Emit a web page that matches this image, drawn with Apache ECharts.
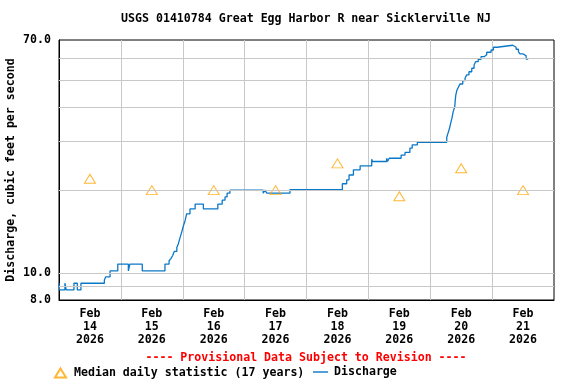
<!DOCTYPE html>
<html><head><meta charset="utf-8">
<script src="https://cdn.jsdelivr.net/npm/echarts@6/dist/echarts.min.js"></script>
<style>html,body{margin:0;padding:0;background:#fff}#c{width:576px;height:384px}</style>
</head><body><div id="c"></div>
<script>
const chartTitle = 'USGS 01410784 Great Egg Harbor R near Sicklerville NJ';
const yAxisTitle = 'Discharge, cubic feet per second';
const footerText = '---- Provisional Data Subject to Revision ----';
const dayLabels = ['Feb\n14\n2026','Feb\n15\n2026','Feb\n16\n2026','Feb\n17\n2026','Feb\n18\n2026','Feb\n19\n2026','Feb\n20\n2026','Feb\n21\n2026'];
const medianName = 'Median daily statistic (17 years)';
const medianValues = [22, 20, 20, 20, 25, 19, 24, 20];
const dischargeName = 'Discharge';
// hours since 2026-02-14 00:00
const dischargeHours = [0,0.2,2.3,2.8,5.8,7.1,8.5,17.6,18.1,19.8,22.8,26.9,27.5,32.3,41.1,42.7,43.4,44.1,44.7,45.7,46.3,46.9,47.6,48.2,48.9,49.5,50.8,52.8,56.0,61.6,63.3,64.4,65.2,66.3,79.2,79.9,80.6,89.6,109.9,111.6,112.5,114.2,116.8,121.3,121.6,127.1,127.4,128.1,132.7,134.2,136.1,137.0,139.0,150.4,150.8,151.4,151.9,152.4,152.9,153.5,153.7,153.9,154.3,154.9,155.5,156.6,157.5,158.1,159.0,160.1,161.0,161.6,162.6,163.7,164.9,165.9,167.6,168.5,170.0,176.0,177.3,178.2,178.8,180.1,181.2,182.0];
const dischargeValues = [9.2,8.7,9.2,8.7,9.2,8.7,9.2,9.45,9.7,10.2,10.8,10.2,10.8,10.2,10.8,11.1,11.3,11.6,12.0,12.4,12.8,13.4,14.1,14.8,15.5,16.4,17.1,17.8,17.1,17.8,18.4,18.9,19.5,20.0,19.5,20.0,19.5,20.1,21.1,21.8,22.7,23.7,24.5,25.9,25.4,26.1,25.4,26.1,26.8,27.4,28.4,29.2,29.8,31.1,32.0,33.3,34.9,36.4,38.5,40.1,42.4,44.2,45.9,47.2,48.5,49.9,50.9,52.3,53.7,55.3,56.8,58.4,59.6,60.9,61.9,63.2,64.4,65.9,67.0,65.9,64.8,63.5,62.3,61.3,59.7,59.7];
const yTickValues = [8, 10, 70];
const yGridValues = [9, 10, 20, 30, 40, 50, 60];
const yMin = 8, yMax = 70;
const xMaxHours = 192, xStepHours = 24;

const FONT = "'DejaVu Sans Mono', monospace";
const FS = 11.6;
const txt = {fontFamily: FONT, fontWeight: 'bold', fontSize: FS, color: '#000'};

const chart = echarts.init(document.getElementById('c'), null, {renderer: 'canvas'});
chart.setOption({
  animation: false,
  backgroundColor: '#fff',
  grid: {left: 59, right: 22, top: 40, bottom: 84, containLabel: false, outerBoundsMode: 'none',
         show: true, borderColor: '#000', borderWidth: 1, backgroundColor: 'transparent'},
  graphic: [
    {type: 'text', x: 306, y: 19, style: {text: chartTitle, font: `bold ${FS}px ${FONT}`, fill: '#000', textAlign: 'center', textVerticalAlign: 'middle'}},
    {type: 'text', x: 306, y: 358, style: {text: footerText, font: `bold ${FS}px ${FONT}`, fill: '#ff0000', textAlign: 'center', textVerticalAlign: 'middle'}}
  ],
  legend: [
    {data: [medianName], left: 54, top: 367, itemWidth: 11, itemHeight: 9, padding: 0, textStyle: Object.assign({}, txt, {padding: [0, 0, 0, 3]})},
    {data: [{name: dischargeName, icon: 'rect'}], left: 313, top: 366, itemWidth: 15, itemHeight: 1.4, padding: 0,
     itemStyle: {color: '#0a78c8', borderWidth: 0}, textStyle: Object.assign({}, txt, {padding: [0, 0, 0, 1]})}
  ],
  xAxis: [
    {type: 'value', min: 0, max: xMaxHours, interval: xStepHours, position: 'bottom',
     axisLine: {show: true, lineStyle: {color: '#000'}}, axisTick: {show: false}, axisLabel: {show: false},
     splitLine: {show: true, showMinLine: false, showMaxLine: false, lineStyle: {color: '#c8c8c8', width: 1}}},
    {type: 'category', data: dayLabels, position: 'bottom', boundaryGap: true,
     axisLine: {show: false}, axisTick: {show: false}, splitLine: {show: false},
     axisLabel: Object.assign({}, txt, {margin: 8, lineHeight: 12.7, interval: 0})}
  ],
  yAxis: {
    type: 'log', logBase: 10, min: yMin, max: yMax,
    axisLine: {show: true, lineStyle: {color: '#000'}}, axisTick: {show: false}, splitLine: {show: false},
    axisLabel: Object.assign({}, txt, {margin: 8, customValues: yTickValues, showMinLabel: true, showMaxLabel: true, formatter: v => Number(v).toFixed(1)}),
    name: yAxisTitle, nameLocation: 'middle', nameRotate: 90, nameGap: 42, nameMoveOverlap: false, nameTextStyle: txt
  },
  series: [
    {name: 'grid', type: 'line', data: [], xAxisIndex: 0, z: 1, silent: true,
     markLine: {silent: true, symbol: 'none', label: {show: false}, animation: false,
       lineStyle: {color: '#c8c8c8', type: 'solid', width: 1},
       data: yGridValues.map(v => ({yAxis: v}))}},
    {name: dischargeName, type: 'line', step: 'end', xAxisIndex: 0, z: 3, symbol: 'none',
     lineStyle: {color: '#0a78c8', width: 1.3}, itemStyle: {color: '#0a78c8'},
     data: dischargeHours.map((h, i) => [h, dischargeValues[i]])},
    {name: medianName, type: 'scatter', xAxisIndex: 1, z: 4, symbol: 'triangle', symbolSize: [11, 9],
     itemStyle: {color: 'rgba(0,0,0,0)', borderColor: '#ffa500', borderWidth: 1},
     data: medianValues}
  ]
});
</script></body></html>
